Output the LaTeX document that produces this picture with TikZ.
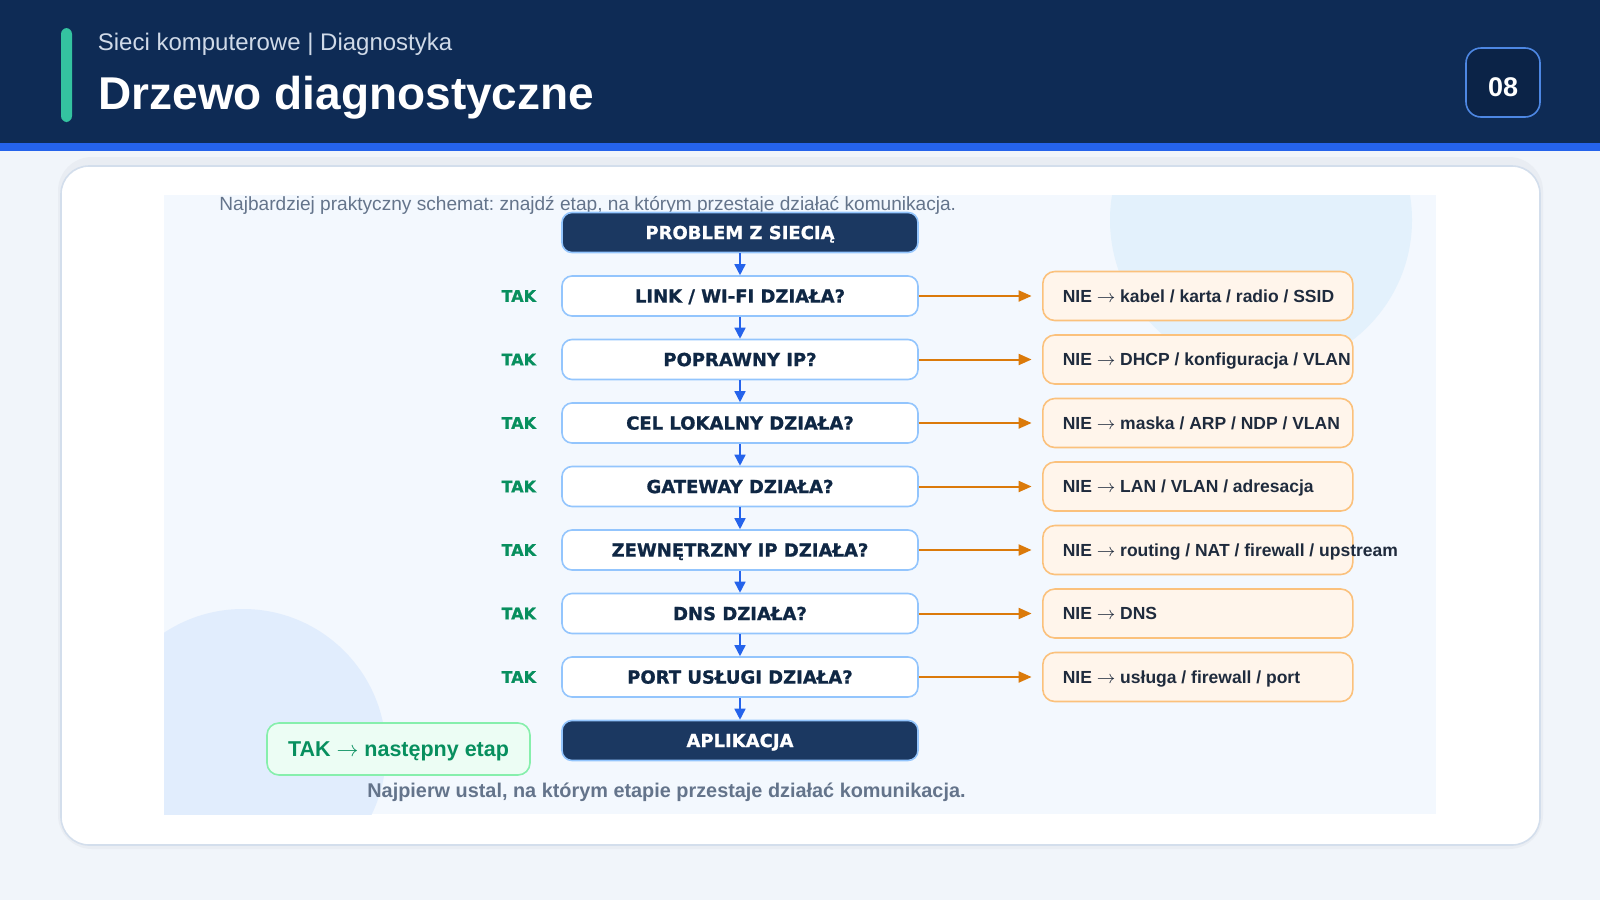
\documentclass[tikz,border=0pt]{standalone}
\usepackage{fontspec}
\setmainfont{Liberation Sans}
\newfontfamily\heavy[BoldFeatures={FakeBold=1}]{DejaVu Sans}
\usepackage{tikz}
\usetikzlibrary{positioning,arrows.meta}

\definecolor{pagebg}{HTML}{F1F5FA}
\definecolor{header}{HTML}{0E2B55}
\definecolor{stripe}{HTML}{2563EB}
\definecolor{accent}{HTML}{34C3A0}
\definecolor{kicker}{HTML}{D0DAE8}
\definecolor{pagefill}{HTML}{0B2347}
\definecolor{pageline}{HTML}{4D87E3}
\definecolor{cardline}{HTML}{D3DEEC}
\definecolor{cardshadow}{HTML}{E9EDF3}
\definecolor{panel}{HTML}{F3F8FE}
\definecolor{bubble}{HTML}{E3F1FC}
\definecolor{bubbletwo}{HTML}{E1EDFD}
\definecolor{ink}{HTML}{0F2744}
\definecolor{qline}{HTML}{93C5FD}
\definecolor{navy}{HTML}{1B3861}
\definecolor{yesgreen}{HTML}{078F5E}
\definecolor{legendfill}{HTML}{ECFDF4}
\definecolor{legendline}{HTML}{86EFAC}
\definecolor{noarrow}{HTML}{DB7A0A}
\definecolor{nofill}{HTML}{FFF5EB}
\definecolor{noline}{HTML}{FBC17C}
\definecolor{notext}{HTML}{1F2B3D}
\definecolor{caption}{HTML}{64748B}

\newcommand{\thenarrow}{$\rightarrow$}
\newcommand{\nietext}[1]{\makebox[135pt][l]{NIE \thenarrow{} #1}}

\begin{document}
\frenchspacing
\begin{tikzpicture}[x=0.5pt,y=-0.5pt]
\tikzstyle{question}=[draw=qline, fill=white, line width=0.8pt, rounded corners=5pt, minimum width=178pt, minimum height=20pt, inner sep=0pt, text height=6.6pt, text depth=0pt, text=ink, font=\heavy\bfseries\fontsize{9}{10}\selectfont]
\tikzstyle{final}=[question, fill=navy, text=white]
\tikzstyle{yes}=[inner sep=0pt, text=yesgreen, font=\heavy\bfseries\fontsize{8}{9}\selectfont]
\tikzstyle{no}=[draw=noline, fill=nofill, line width=0.8pt, rounded corners=6pt, minimum height=24.5pt, inner xsep=10pt, inner ysep=0pt, text height=6.3pt, text depth=0pt, text=notext, font=\bfseries\fontsize{8.75}{10}\selectfont]
\tikzstyle{down}=[draw=stripe, line width=0.8pt, -{Triangle[length=5.5pt,width=5.5pt]}]
\tikzstyle{side}=[draw=noarrow, line width=1pt, shorten >=5.2pt, -{Triangle[length=6.5pt,width=5.5pt]}]

% page and header
\fill[pagebg] (0,0) rectangle (1600,900);
\fill[header] (0,0) rectangle (1600,143);
\fill[stripe] (0,143) rectangle (1600,151);
\fill[accent, rounded corners=3pt] (61,28) rectangle (72,122);
\node[anchor=base west, inner sep=0pt, text=kicker, font=\fontsize{12}{14}\selectfont] (kicker) at (97.5,50) {Sieci komputerowe | Diagnostyka};
\node[anchor=base west, inner sep=0pt, text=white, font=\bfseries\fontsize{23}{27}\selectfont] (title) at (98,109.5) {Drzewo diagnostyczne};
\node[draw=pageline, fill=pagefill, line width=0.8pt, rounded corners=7.5pt, minimum width=37pt, minimum height=34.5pt] (pagebox) at (1503,82.5) {};
\node[text=white, font=\bfseries\fontsize{13.5}{16}\selectfont] (pagenum) at (1503,87) {08};

% card
\fill[cardshadow, rounded corners=17pt] (58,157) rectangle (1543,849);
\filldraw[fill=white, draw=cardline, line width=0.8pt, rounded corners=14pt] (61,166) rectangle (1540,845);
\fill[panel] (164,195) rectangle (1436,814);
\begin{scope}
\clip (164,195) rectangle (1436,814);
\fill[bubble] (1261,220) circle (75.5pt);
\fill[bubbletwo] (243,752) circle (71.5pt);
\end{scope}

\node[anchor=base west, inner sep=0pt, text=caption, font=\fontsize{9.55}{11}\selectfont] (intro) at (219,210) {Najbardziej praktyczny schemat: znajdź etap, na którym przestaje działać komunikacja.};

% chain
\node[final] (problem) at (740,232.5) {PROBLEM Z SIECIĄ};
\node[question, below=10.95pt of problem] (link) {LINK / WI-FI DZIAŁA?};
\node[question, below=10.95pt of link] (ip) {POPRAWNY IP?};
\node[question, below=10.95pt of ip] (local) {CEL LOKALNY DZIAŁA?};
\node[question, below=10.95pt of local] (gateway) {GATEWAY DZIAŁA?};
\node[question, below=10.95pt of gateway] (external) {ZEWNĘTRZNY IP DZIAŁA?};
\node[question, below=10.95pt of external] (dns) {DNS DZIAŁA?};
\node[question, below=10.95pt of dns] (port) {PORT USŁUGI DZIAŁA?};
\node[final, below=10.95pt of port] (app) {APLIKACJA};

\node[yes, left=12.4pt of link] (yes1) {TAK};
\node[yes, left=12.4pt of ip] (yes2) {TAK};
\node[yes, left=12.4pt of local] (yes3) {TAK};
\node[yes, left=12.4pt of gateway] (yes4) {TAK};
\node[yes, left=12.4pt of external] (yes5) {TAK};
\node[yes, left=12.4pt of dns] (yes6) {TAK};
\node[yes, left=12.4pt of port] (yes7) {TAK};

\node[no, right=61.6pt of link] (no1) {\nietext{kabel / karta / radio / SSID}};
\node[no, right=61.6pt of ip] (no2) {\nietext{DHCP / konfiguracja / VLAN}};
\node[no, right=61.6pt of local] (no3) {\nietext{maska / ARP / NDP / VLAN}};
\node[no, right=61.6pt of gateway] (no4) {\nietext{LAN / VLAN / adresacja}};
\node[no, right=61.6pt of external] (no5) {\nietext{routing / NAT / firewall / upstream}};
\node[no, right=61.6pt of dns] (no6) {\nietext{DNS}};
\node[no, right=61.6pt of port] (no7) {\nietext{usługa / firewall / port}};

\draw[down] (problem) -- (link);
\draw[down] (link) -- (ip);
\draw[down] (ip) -- (local);
\draw[down] (local) -- (gateway);
\draw[down] (gateway) -- (external);
\draw[down] (external) -- (dns);
\draw[down] (dns) -- (port);
\draw[down] (port) -- (app);

\draw[side] (link) -- (no1);
\draw[side] (ip) -- (no2);
\draw[side] (local) -- (no3);
\draw[side] (gateway) -- (no4);
\draw[side] (external) -- (no5);
\draw[side] (dns) -- (no6);
\draw[side] (port) -- (no7);

% legend and note
\node[draw=legendline, fill=legendfill, line width=0.8pt, rounded corners=6pt, minimum width=131.5pt, minimum height=26pt, text height=7.7pt, text depth=0pt, text=yesgreen, font=\bfseries\fontsize{10.75}{12}\selectfont] (legend) at (398.5,749) {TAK \thenarrow{} następny etap};
\node[anchor=base west, inner sep=0pt, text=caption, font=\bfseries\fontsize{9.93}{11}\selectfont] (note) at (367,797) {Najpierw ustal, na którym etapie przestaje działać komunikacja.};
\end{tikzpicture}
\end{document}
